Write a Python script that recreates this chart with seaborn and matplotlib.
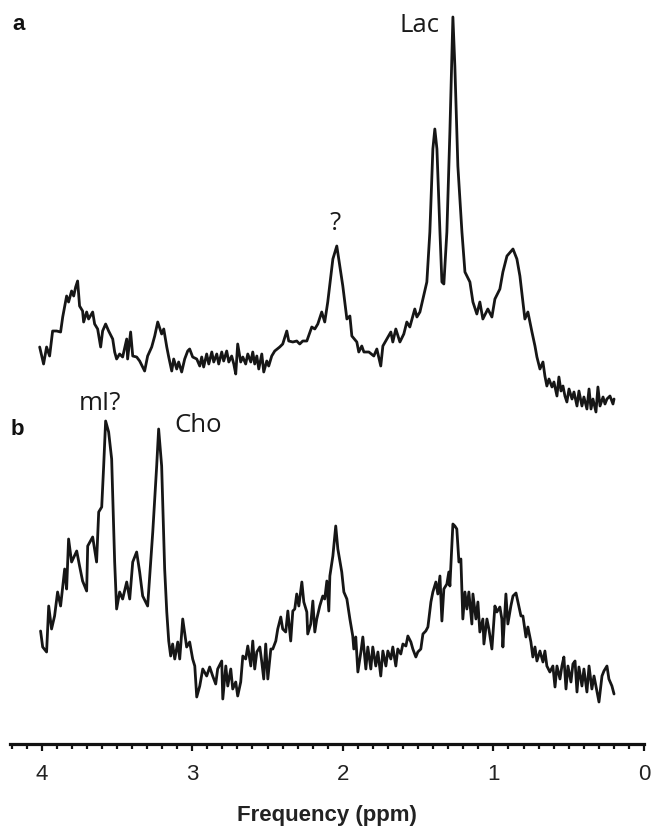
import numpy as np
import pandas as pd
import matplotlib
matplotlib.use("Agg")
import matplotlib.pyplot as plt
from matplotlib.ticker import MultipleLocator
import seaborn as sns

# Spectrum a (upper trace): chemical shift (ppm) and signal (a.u.)
ppm_a = [4.013, 3.987, 3.967, 3.947, 3.927, 3.900, 3.874, 3.860, 3.834, 3.821, 3.801, 3.787,
         3.774, 3.761, 3.748, 3.728, 3.721, 3.701, 3.688, 3.661, 3.648, 3.628, 3.608, 3.595,
         3.575, 3.555, 3.528, 3.515, 3.502, 3.482, 3.462, 3.435, 3.429, 3.409, 3.395, 3.369,
         3.349, 3.316, 3.296, 3.269, 3.249, 3.229, 3.203, 3.189, 3.169, 3.156, 3.136, 3.123,
         3.103, 3.090, 3.070, 3.050, 3.030, 3.017, 2.997, 2.970, 2.950, 2.937, 2.924, 2.904,
         2.890, 2.870, 2.857, 2.837, 2.824, 2.804, 2.791, 2.771, 2.757, 2.738, 2.724, 2.711,
         2.698, 2.678, 2.664, 2.645, 2.631, 2.611, 2.598, 2.585, 2.571, 2.558, 2.538, 2.525,
         2.505, 2.492, 2.472, 2.452, 2.419, 2.399, 2.372, 2.359, 2.332, 2.306, 2.286, 2.266,
         2.239, 2.206, 2.186, 2.166, 2.140, 2.120, 2.100, 2.066, 2.040, 2.020, 2.000, 1.973,
         1.953, 1.940, 1.907, 1.894, 1.874, 1.860, 1.827, 1.794, 1.774, 1.748, 1.734, 1.681,
         1.668, 1.648, 1.621, 1.595, 1.575, 1.555, 1.535, 1.522, 1.508, 1.488, 1.468, 1.442,
         1.422, 1.402, 1.389, 1.375, 1.355, 1.342, 1.329, 1.309, 1.289, 1.269, 1.256, 1.236,
         1.209, 1.189, 1.156, 1.136, 1.110, 1.090, 1.070, 1.037, 1.010, 0.990, 0.957, 0.937,
         0.910, 0.870, 0.844, 0.824, 0.791, 0.771, 0.744, 0.724, 0.711, 0.691, 0.671, 0.658,
         0.645, 0.631, 0.611, 0.598, 0.578, 0.565, 0.551, 0.538, 0.525, 0.512, 0.498, 0.478,
         0.465, 0.445, 0.432, 0.412, 0.399, 0.379, 0.365, 0.352, 0.339, 0.319, 0.306, 0.292,
         0.272, 0.259, 0.246, 0.226, 0.206, 0.199]
sig_a = [62, 45, 62, 53, 78, 78, 77, 92, 113, 107, 118, 113,
         122, 128, 103, 98, 87, 97, 90, 97, 85, 80, 62, 78,
         85, 78, 70, 57, 50, 55, 52, 70, 50, 77, 53, 52,
         48, 38, 53, 62, 73, 87, 75, 80, 62, 52, 38, 50,
         40, 47, 37, 50, 58, 60, 52, 50, 43, 52, 42, 55,
         45, 57, 47, 55, 45, 57, 48, 58, 47, 53, 45, 35,
         65, 47, 52, 45, 55, 47, 57, 45, 53, 40, 55, 37,
         48, 43, 53, 58, 62, 65, 78, 68, 67, 68, 65, 68,
         68, 82, 80, 85, 97, 87, 107, 150, 163, 143, 123, 90,
         93, 73, 67, 57, 63, 57, 57, 53, 60, 43, 63, 77,
         67, 80, 67, 75, 87, 82, 93, 100, 92, 97, 110, 127,
         177, 260, 280, 260, 177, 127, 125, 177, 277, 392, 343, 243,
         177, 137, 127, 107, 95, 107, 90, 100, 92, 110, 120, 137,
         153, 160, 150, 133, 90, 97, 77, 63, 52, 40, 47, 33,
         23, 30, 22, 27, 13, 32, 18, 23, 13, 7, 20, 10,
         17, 3, 18, 3, 12, 0, 20, 0, 10, -3, 22, 3,
         12, 5, 10, 13, 5, 10]

# Spectrum b (lower trace)
ppm_b = [4.007, 3.993, 3.967, 3.953, 3.934, 3.914, 3.894, 3.874, 3.847, 3.834, 3.821, 3.801,
         3.767, 3.748, 3.728, 3.701, 3.694, 3.661, 3.635, 3.621, 3.601, 3.588, 3.575, 3.555,
         3.535, 3.515, 3.502, 3.482, 3.462, 3.435, 3.415, 3.395, 3.369, 3.349, 3.329, 3.296,
         3.282, 3.262, 3.236, 3.223, 3.203, 3.183, 3.169, 3.156, 3.143, 3.130, 3.116, 3.096,
         3.083, 3.063, 3.037, 3.017, 2.997, 2.983, 2.970, 2.950, 2.930, 2.904, 2.884, 2.864,
         2.844, 2.831, 2.804, 2.797, 2.777, 2.764, 2.744, 2.731, 2.711, 2.698, 2.678, 2.664,
         2.645, 2.631, 2.611, 2.598, 2.585, 2.571, 2.551, 2.538, 2.525, 2.512, 2.498, 2.478,
         2.465, 2.445, 2.432, 2.412, 2.399, 2.379, 2.365, 2.346, 2.332, 2.319, 2.306, 2.292,
         2.272, 2.259, 2.239, 2.233, 2.213, 2.199, 2.186, 2.173, 2.153, 2.133, 2.120, 2.106,
         2.093, 2.086, 2.066, 2.047, 2.033, 2.007, 1.993, 1.973, 1.953, 1.934, 1.927, 1.914,
         1.900, 1.880, 1.867, 1.847, 1.834, 1.814, 1.801, 1.781, 1.767, 1.748, 1.734, 1.714,
         1.701, 1.681, 1.668, 1.648, 1.635, 1.615, 1.601, 1.581, 1.568, 1.548, 1.535, 1.515,
         1.502, 1.482, 1.468, 1.449, 1.435, 1.415, 1.402, 1.382, 1.369, 1.355, 1.342, 1.329,
         1.309, 1.296, 1.289, 1.269, 1.256, 1.243, 1.229, 1.216, 1.203, 1.189, 1.176, 1.163,
         1.143, 1.136, 1.116, 1.103, 1.090, 1.070, 1.063, 1.043, 1.030, 1.010, 0.990, 0.977,
         0.957, 0.944, 0.937, 0.917, 0.904, 0.884, 0.870, 0.850, 0.837, 0.817, 0.804, 0.784,
         0.771, 0.751, 0.738, 0.724, 0.711, 0.691, 0.671, 0.658, 0.645, 0.625, 0.605, 0.591,
         0.578, 0.558, 0.545, 0.532, 0.518, 0.505, 0.485, 0.472, 0.458, 0.445, 0.432, 0.412,
         0.399, 0.379, 0.365, 0.346, 0.332, 0.312, 0.299, 0.279, 0.266, 0.246, 0.233, 0.213,
         0.199]
sig_b = [68, 52, 47, 93, 70, 83, 107, 93, 130, 110, 160, 137,
         148, 133, 118, 108, 153, 162, 137, 187, 192, 233, 278, 267,
         240, 137, 90, 107, 100, 117, 100, 137, 147, 127, 103, 93,
         123, 167, 233, 270, 233, 130, 87, 58, 43, 55, 40, 57,
         40, 80, 52, 57, 40, 33, 2, 13, 30, 23, 32, 23,
         15, 30, 38, 0, 33, 13, 30, 10, 17, 3, 17, 43,
         40, 53, 33, 58, 30, 47, 52, 37, 20, 55, 20, 50,
         50, 58, 70, 82, 70, 67, 88, 58, 88, 90, 105, 93,
         117, 97, 87, 65, 75, 98, 67, 80, 93, 103, 100, 118,
         88, 123, 143, 173, 150, 127, 107, 100, 80, 63, 50, 62,
         27, 47, 62, 30, 52, 30, 52, 33, 47, 23, 48, 33,
         48, 40, 52, 33, 50, 45, 55, 53, 63, 57, 50, 42,
         47, 50, 65, 68, 72, 97, 107, 117, 105, 123, 78, 110,
         115, 127, 113, 175, 173, 170, 137, 140, 80, 107, 90, 107,
         75, 105, 80, 97, 67, 80, 55, 80, 70, 50, 93, 87,
         92, 80, 52, 105, 75, 93, 103, 106, 97, 83, 83, 62,
         72, 57, 42, 52, 38, 48, 37, 48, 33, 27, 33, 12,
         33, 20, 33, 42, 10, 33, 17, 35, 38, 7, 32, 13,
         30, 7, 33, 10, 23, 7, -3, 23, 28, 33, 20, 13,
         5]

# Vertical offset of the upper trace above the lower one
offset_a = 290

tick_values = [4, 3, 2, 1, 0]
tick_labels = ["4", "3", "2", "1", "0"]

df = pd.concat([
    pd.DataFrame({"ppm": ppm_a, "signal": np.array(sig_a) + offset_a, "spectrum": "a"}),
    pd.DataFrame({"ppm": ppm_b, "signal": sig_b, "spectrum": "b"}),
], ignore_index=True)

sns.set_style("ticks")
plt.rcParams["font.family"] = ["Liberation Sans", "DejaVu Sans"]

fig = plt.figure(figsize=(6.51, 8.28), dpi=100)
ax = fig.add_axes([10 / 651, 83 / 828, 634 / 651, 745 / 828])

line_color = "#161616"
sns.lineplot(data=df, x="ppm", y="signal", units="spectrum", estimator=None,
             sort=False, color=line_color, linewidth=2.0, ax=ax, legend=False)

ax.set_xlim(4.21, 0)
ax.set_ylim(-45, 700)

sns.despine(ax=ax, left=True, top=True, right=True)
ax.spines["bottom"].set_linewidth(2.3)
ax.spines["bottom"].set_color("#111111")
ax.set_yticks([])
ax.set_ylabel("")

ax.set_xticks(tick_values)
ax.set_xticklabels(tick_labels, fontsize=16, color="#222222")
ax.xaxis.set_minor_locator(MultipleLocator(0.1))
ax.tick_params(axis="x", which="major", direction="out", length=5, width=1.6,
               color="#111111", pad=9)
ax.tick_params(axis="x", which="minor", direction="out", length=3.5, width=1.6,
               color="#111111")
ax.set_xlabel("Frequency (ppm)", fontsize=16, fontweight="bold", color="#222222",
              labelpad=14)

# Peak annotations
label_font = ["Open Sans", "DejaVu Sans"]
for x, y, s in [(1.49, 674, "Lac"), (2.05, 476, "?"), (3.61, 296, "mI?"), (2.96, 274, "Cho")]:
    ax.text(x, y, s, fontsize=18.5, family=label_font, ha="center", va="center",
            color="#1a1a1a")

# Panel letters
fig.text(12 / 651, 1 - 25 / 828, "a", fontsize=16, fontweight="bold", ha="left",
         va="center", color="#111111")
fig.text(11 / 651, 1 - 430 / 828, "b", fontsize=16, fontweight="bold", ha="left",
         va="center", color="#111111")

fig.savefig("out.png", dpi=100, facecolor="white")
